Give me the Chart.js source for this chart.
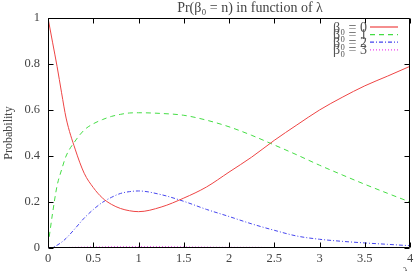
<!DOCTYPE html>
<html><head><meta charset="utf-8">
<script src="https://cdn.jsdelivr.net/npm/chart.js@4"></script>
<style>html,body{margin:0;padding:0;background:#fff;overflow:hidden}</style>
</head><body>
<canvas id="c" width="419" height="271"></canvas>
<script>
const lambdas = [0,0.05,0.1,0.15,0.2,0.3,0.4,0.5,0.6,0.7,0.8,0.9,1.0,1.25,1.5,1.75,2,2.25,2.5,2.75,3,3.25,3.5,3.75,4];
const pr0 = [1.0,0.895,0.79,0.675,0.565,0.43,0.325,0.263,0.218,0.19,0.172,0.162,0.158,0.178,0.217,0.265,0.33,0.395,0.468,0.535,0.60,0.655,0.705,0.747,0.79];
const pr1 = [0.01,0.15,0.27,0.34,0.40,0.465,0.513,0.54,0.558,0.572,0.581,0.587,0.588,0.585,0.577,0.556,0.527,0.49,0.448,0.405,0.36,0.318,0.277,0.238,0.20];
const pr2 = [0,0.003,0.012,0.025,0.042,0.085,0.13,0.167,0.198,0.22,0.237,0.245,0.248,0.232,0.203,0.168,0.137,0.105,0.077,0.052,0.038,0.029,0.022,0.016,0.01];
const pr3 = [0,0,0.001,0.001,0.002,0.003,0.004,0.005,0.005,0.006,0.006,0.006,0.006,0.006,0.005,0.004,0.003,0.003,0.002,0.002,0.001,0.001,0.001,0,0];
const seriesLabels = ['β₀ = 0','β₀ = 1','β₀ = 2','β₀ = 3'];
const xTicks = [0,0.5,1,1.5,2,2.5,3,3.5,4];
const yTicks = [0,0.2,0.4,0.6,0.8,1];
const titleText = 'Pr(β₀ = n) in function of λ';
const yTitle = 'Probability';
const xTitle = 'λ';

const SERIF = '"Liberation Serif", "DejaVu Serif", serif';
const colors = ['#ee4444','#44dd44','#4444ee','#ee44ee'];
const dashes = [[], [5,4], [4,2,1,2], [1,2]];
const allSeries = [pr0, pr1, pr2, pr3];

const datasets = allSeries.map((s, i) => ({
  label: seriesLabels[i],
  data: lambdas.map((x, j) => ({x: x, y: s[j]})),
  borderColor: colors[i],
  borderWidth: 1,
  borderDash: dashes[i],
  pointRadius: 0,
  fill: false,
  cubicInterpolationMode: 'monotone'
}));

const framePlugin = {
  id: 'frame',
  afterDatasetsDraw(chart) {
    const ctx = chart.ctx, a = chart.chartArea;
    const xs = chart.scales.x, ys = chart.scales.y;
    ctx.save();
    ctx.strokeStyle = '#000';
    ctx.lineWidth = 1;
    ctx.setLineDash([]);
    ctx.beginPath();
    const L = Math.round(a.left)+0.5, R = Math.round(a.right)-0.5, T = Math.round(a.top)+0.5, B = Math.round(a.bottom)-0.5;
    ctx.rect(L, T, R-L, B-T);
    const tl = 5;
    xTicks.forEach(v => {
      const px = Math.round(xs.getPixelForValue(v))+0.5;
      ctx.moveTo(px, B); ctx.lineTo(px, B-tl);
      ctx.moveTo(px, T); ctx.lineTo(px, T+tl);
    });
    yTicks.forEach(v => {
      const py = Math.round(ys.getPixelForValue(v))+0.5;
      ctx.moveTo(L, py); ctx.lineTo(L+tl, py);
      ctx.moveTo(R, py); ctx.lineTo(R-tl, py);
    });
    ctx.stroke();
    ctx.restore();

    // legend
    ctx.save();
    ctx.font = '14px ' + SERIF;
    ctx.textAlign = 'right';
    ctx.textBaseline = 'middle';
    seriesLabels.forEach((lab, i) => {
      const y = 27 + i * 7.6;
      ctx.fillStyle = '#555';
      ctx.fillText(lab, 367, y + 1);
    });
    ctx.lineWidth = 1.2;
    seriesLabels.forEach((lab, i) => {
      const y = 27 + i * 7.6;
      ctx.strokeStyle = colors[i];
      ctx.setLineDash(dashes[i]);
      ctx.beginPath();
      ctx.moveTo(370, y);
      ctx.lineTo(398, y);
      ctx.stroke();
    });
    ctx.restore();
  },
  afterDraw(chart) {
    const ctx = chart.ctx;
    ctx.save();
    ctx.font = '14px ' + SERIF;
    ctx.fillStyle = '#444';
    ctx.textAlign = 'center';
    ctx.textBaseline = 'middle';
    ctx.fillText(titleText, 250, 8);
    ctx.font = '13px ' + SERIF;
    ctx.fillText(xTitle, 406, 273);
    ctx.restore();
  }
};

new Chart(document.getElementById('c'), {
  type: 'line',
  data: { datasets },
  options: {
    responsive: false,
    animation: false,
    devicePixelRatio: 1,
    layout: { padding: { left: 0, right: 9, top: 18, bottom: 0 } },
    plugins: {
      legend: { display: false },
      tooltip: { enabled: false },
      title: { display: false }
    },
    scales: {
      x: {
        type: 'linear', min: 0, max: 4,
        afterFit(s) { s.height = 23; },
        afterBuildTicks(s) { s.ticks = xTicks.map(v => ({value: v})); },
        ticks: { color: '#444', font: { family: SERIF, size: 12.5 }, padding: 3, maxRotation: 0, autoSkip: false,
                 callback: v => String(v) },
        grid: { display: false, drawTicks: false },
        border: { display: false }
      },
      y: {
        type: 'linear', min: 0, max: 1,
        afterFit(s) { s.width = 48; },
        afterBuildTicks(s) { s.ticks = yTicks.map(v => ({value: v})); },
        ticks: { color: '#444', font: { family: SERIF, size: 12.5 }, padding: 8,
                 callback: v => String(v) },
        grid: { display: false, drawTicks: false },
        border: { display: false },
        title: { display: true, text: yTitle, color: '#444', font: { family: SERIF, size: 12 }, padding: { top: 2, bottom: 0 } }
      }
    }
  },
  plugins: [framePlugin]
});
</script>
</body></html>
